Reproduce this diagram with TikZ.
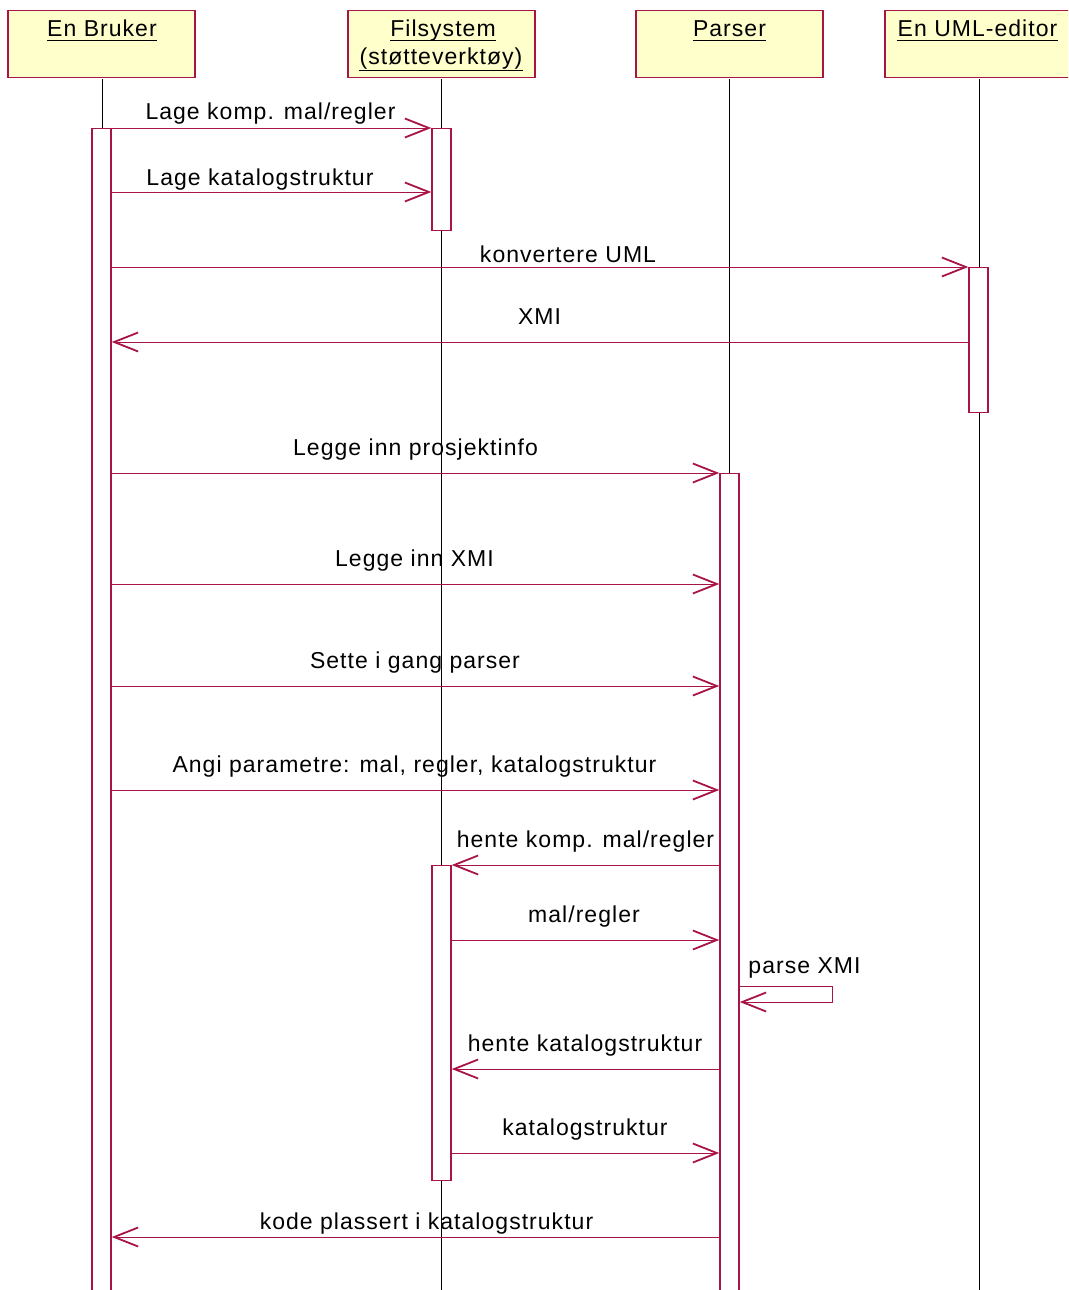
\documentclass[tikz,border=0pt]{standalone}
\usepackage{fontspec}
\setmainfont{Liberation Sans}[LetterSpace=4.5]
\usetikzlibrary{arrows.meta}

\definecolor{umlred}{RGB}{168,20,72}
\definecolor{headfill}{RGB}{255,255,204}

\tikzset{
  head/.style={draw=umlred, line width=1.4pt, fill=headfill, minimum width=187pt,
    minimum height=67pt, inner sep=0pt, anchor=north},
  headtxt/.style={anchor=base, inner sep=0pt, font=\fontsize{23}{28}\selectfont},
  uline/.style={black, line width=1.3pt},
  life/.style={black, line width=0.9pt},
  actbox/.style={draw=umlred, line width=1.4pt, fill=white, minimum width=19pt,
    inner sep=0pt, anchor=north},
  msg/.style={umlred, line width=0.9pt,
    -{Straight Barb[length=24pt,width=19pt,line width=1.8pt]}},
  lbl/.style={anchor=base, inner sep=0pt, text=black, font=\fontsize{23}{28}\selectfont},
}

\begin{document}
\begin{tikzpicture}[x=1pt,y=-1pt]
\useasboundingbox (0,0) rectangle (1068,1290);
\clip (0,0) rectangle (1068,1290);

% object heads
\node[head] (bruker) at (101.5,10) {};
\node[head] (fil)    at (441.5,10) {};
\node[head] (parser) at (729.5,10) {};
\node[head] (uml)    at (978.5,10) {};
\node[headtxt] (tbruker) at (102,37) {En Bruker};
\node[headtxt] (tfil1)   at (443,37) {Filsystem\ };
\node[headtxt] (tfil2)   at (441,65) {(støtteverktøy)};
\node[headtxt] (tparser) at (729.5,37) {Parser};
\node[headtxt] (tuml)    at (977.5,37) {En\ UML-editor};
% underlined object names
\foreach \t in {tbruker,tfil1,tparser,tuml}
  \draw[uline] ([yshift=-3.5pt]\t.base west) -- ([yshift=-3.5pt]\t.base east);
\draw[uline] ([yshift=-5.5pt]tfil2.base west) -- ([yshift=-5.5pt]tfil2.base east);

% lifelines
\coordinate (endB) at (102,1300);
\coordinate (endF) at (441,1300);
\coordinate (endP) at (729,1300);
\coordinate (endU) at (979,1300);
\draw[life] (102,79) -- (endB);
\draw[life] (441,79) -- (endF);
\draw[life] (729,79) -- (endP);
\draw[life] (979,79) -- (endU);

% activations
\node[actbox, minimum height=1180pt] (aB)  at (101.5,128) {};
\node[actbox, minimum height=102pt]  (aF1) at (441.5,128) {};
\node[actbox, minimum height=145pt]  (aU)  at (978.5,267) {};
\node[actbox, minimum height=830pt]  (aP)  at (729.5,473) {};
\node[actbox, minimum height=315pt]  (aF2) at (441.5,865) {};

% message rows
\foreach \n/\y in {1/128,2/192,3/267,4/342,5/473,6/584,7/686,8/790,
                   9/865,10/940,12/1069,13/1153,14/1237}
  \coordinate (m\n) at (0,\y);

\draw[msg] (aB.east |- m1) -- (aF1.west |- m1);
\draw[msg] (aB.east |- m2) -- (aF1.west |- m2);
\draw[msg] (aB.east |- m3) -- (aU.west |- m3);
\draw[msg] (aU.west |- m4) -- (aB.east |- m4);
\draw[msg] (aB.east |- m5) -- (aP.west |- m5);
\draw[msg] (aB.east |- m6) -- (aP.west |- m6);
\draw[msg] (aB.east |- m7) -- (aP.west |- m7);
\draw[msg] (aB.east |- m8) -- (aP.west |- m8);
\draw[msg] (aP.west |- m9) -- (aF2.east |- m9);
\draw[msg] (aF2.east |- m10) -- (aP.west |- m10);
\coordinate (selfA) at (0,986);
\coordinate (selfB) at (0,1002);
\draw[msg] (aP.east |- selfA) -- (832,986) -- (832,1002) -- (aP.east |- selfB);
\draw[msg] (aP.west |- m12) -- (aF2.east |- m12);
\draw[msg] (aF2.east |- m13) -- (aP.west |- m13);
\draw[msg] (aP.west |- m14) -- (aB.east |- m14);

% message labels
\node[lbl] (l1)  at (270.5,119)  {Lage komp. mal/regler};
\node[lbl] (l2)  at (260,185)    {Lage katalogstruktur};
\node[lbl] (l3)  at (568,262)    {konvertere UML};
\node[lbl] (l4)  at (539.5,324)  {XMI};
\node[lbl] (l5)  at (415.5,455)  {Legge inn prosjektinfo};
\node[lbl] (l6)  at (414.5,566)  {Legge inn XMI};
\node[lbl] (l7)  at (415,668)    {Sette i gang parser};
\node[lbl] (l8)  at (414.5,772)  {Angi parametre: mal, regler, katalogstruktur};
\node[lbl] (l9)  at (585.5,847)  {hente komp. mal/regler};
\node[lbl] (l10) at (584,922)    {mal/regler};
\node[lbl] (l11) at (804.5,973)  {parse XMI};
\node[lbl] (l12) at (585,1051)   {hente katalogstruktur};
\node[lbl] (l13) at (585,1135)   {katalogstruktur};
\node[lbl] (l14) at (426.5,1229) {kode plassert i katalogstruktur};
\end{tikzpicture}
\end{document}
